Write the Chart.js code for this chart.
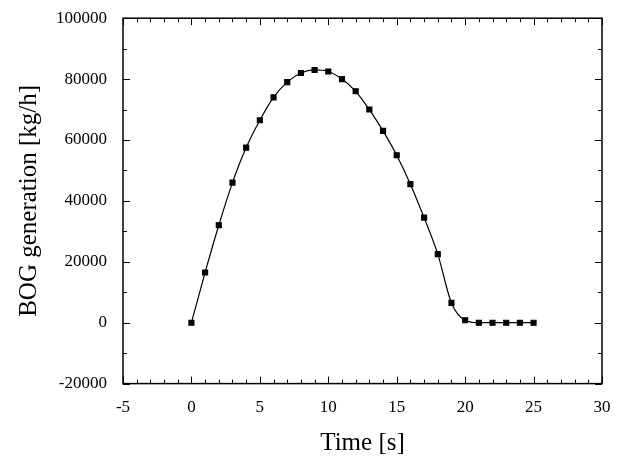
<!DOCTYPE html>
<html>
<head>
<meta charset="utf-8">
<script src="https://cdn.jsdelivr.net/npm/chart.js@4"></script>
<style>
  body { margin: 0; background: #fff; }
  #wrap { width: 618px; height: 468px; }
</style>
</head>
<body>
<div id="wrap"><canvas id="bog"></canvas></div>
<script>
const times = [0, 1, 2, 3, 4, 5, 6, 7, 8, 9, 10, 11, 12, 13, 14, 15, 16, 17, 18, 19, 20, 21, 22, 23, 24, 25];
const bog = [0, 16500, 32000, 46000, 57500, 66500, 74000, 79000, 82000, 83000, 82500, 80000, 76000, 70000, 63000, 55000, 45500, 34500, 22500, 6500, 800, 0, 0, 0, 0, 0];

// inward ticks, major + minor, drawn from the scales
const tickMarks = {
  id: "tickMarks",
  afterDraw(chart) {
    const { ctx, chartArea: a, scales: { x, y } } = chart;
    ctx.save();
    ctx.strokeStyle = "#000";
    ctx.lineWidth = 1;
    for (let v = -5; v <= 30; v += 1) {
      const px = Math.round(x.getPixelForValue(v)) + 0.5;
      const len = v % 5 === 0 ? 7 : 4;
      ctx.beginPath();
      ctx.moveTo(px, a.bottom); ctx.lineTo(px, a.bottom - len);
      ctx.moveTo(px, a.top); ctx.lineTo(px, a.top + len);
      ctx.stroke();
    }
    for (let v = -20000; v <= 100000; v += 10000) {
      const py = Math.round(y.getPixelForValue(v)) + 0.5;
      const len = v % 20000 === 0 ? 7 : 4;
      ctx.beginPath();
      ctx.moveTo(a.left, py); ctx.lineTo(a.left + len, py);
      ctx.moveTo(a.right, py); ctx.lineTo(a.right - len, py);
      ctx.stroke();
    }
    ctx.lineWidth = 1.5;
    ctx.strokeRect(a.left, a.top, a.right - a.left, a.bottom - a.top);
    ctx.restore();
  }
};

new Chart(document.getElementById("bog"), {
  type: "line",
  data: {
    datasets: [{
      data: times.map((t, i) => ({ x: t, y: bog[i] })),
      borderColor: "#000",
      backgroundColor: "#000",
      borderWidth: 1.2,
      pointStyle: "rect",
      pointRadius: 3.5,
      tension: 0.4,
      cubicInterpolationMode: "monotone"
    }]
  },
  options: {
    responsive: true,
    maintainAspectRatio: false,
    animation: false,
    layout: { padding: { top: 12, right: 16, left: 10, bottom: 6 } },
    plugins: { legend: { display: false }, tooltip: { enabled: false } },
    scales: {
      x: {
        type: "linear", min: -5, max: 30,
        grid: { display: false },
        border: { display: false },
        ticks: { stepSize: 5, color: "#000", padding: 6, font: { family: "Liberation Serif", size: 17 } },
        title: { display: true, text: "Time [s]", color: "#000", padding: { top: 4 }, font: { family: "Liberation Serif", size: 25 } }
      },
      y: {
        min: -20000, max: 100000,
        grid: { display: false },
        border: { display: false },
        ticks: { stepSize: 20000, color: "#000", padding: 8, font: { family: "Liberation Serif", size: 17 },
                 callback: v => String(v) },
        title: { display: true, text: "BOG generation [kg/h]", color: "#000", font: { family: "Liberation Serif", size: 25 } }
      }
    }
  },
  plugins: [tickMarks]
});
</script>
</body>
</html>
